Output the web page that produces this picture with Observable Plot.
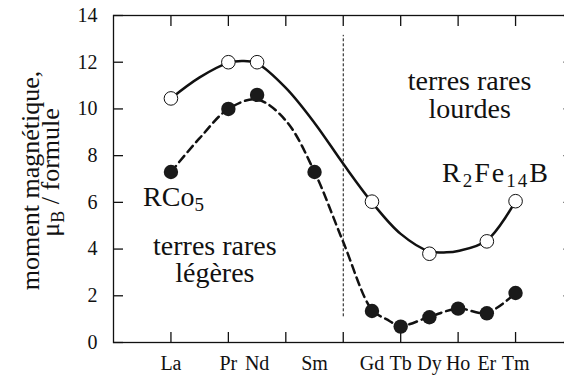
<!DOCTYPE html>
<html><head><meta charset="utf-8">
<script src="https://cdn.jsdelivr.net/npm/d3@7"></script>
<script src="https://cdn.jsdelivr.net/npm/@observablehq/plot@0.6"></script>
<style>
html,body{margin:0;padding:0;overflow:hidden;background:#fff;width:564px;height:376px}
#chart{width:580px}
#chart svg, #chart svg text, #chart svg tspan{font-family:"Liberation Serif","Times New Roman",Times,serif !important}
</style></head><body><div id="chart"></div>
<script>
// Lanthanides placed by atomic number
const elements = ["La","Pr","Nd","Sm","Gd","Tb","Dy","Ho","Er","Tm"];
const atomicNumbers = [57,59,60,62,64,65,66,67,68,69];
// RCo5 (filled dots)
const rco5Moment = [7.3,10.0,10.6,7.3,1.35,0.68,1.08,1.45,1.25,2.12];
// R2Fe14B (open dots)
const r2fe14bZ = [57,59,60,64,66,68,69];
const r2fe14bMoment = [10.45,12.0,12.0,6.03,3.8,4.33,6.05];
// guide curves
const solidTrendZ = [57,58,59,59.5,60,61,62,63,64,65,66,66.6,67,68,69];
const solidTrendM = [10.45,11.35,11.97,12.05,11.95,10.9,9.4,7.65,6.0,4.65,3.9,3.86,3.92,4.37,6.05];
const dashedTrendZ = [57,58,59,60,61,62,63,64,64.5,65,66,67,68,69];
const dashedTrendM = [7.3,8.75,10.0,10.4,9.5,7.3,4.3,1.4,1.0,0.72,1.1,1.45,1.27,2.12];
// axes
const xTicks = [57,59,61,63,65,67,69];
const yTicks = [0,2,4,6,8,10,12,14];
const dividerZ = 63;
const dividerRange = [1.1, 13.15];

const rco5 = atomicNumbers.map((z, i) => ({z, m: rco5Moment[i]}));
const r2fe = r2fe14bZ.map((z, i) => ({z, m: r2fe14bMoment[i]}));
const solidTrend = solidTrendZ.map((z, i) => ({z, m: solidTrendM[i]}));
const dashedTrend = dashedTrendZ.map((z, i) => ({z, m: dashedTrendM[i]}));

const annotations = [
  {text: "RCo_{5}", z: 57.09, m: 5.86, ls: 0},
  {text: "terres rares\nlégères", z: 58.53, m: 2.57, ls: 0},
  {text: "terres rares\nlourdes", z: 67.4, m: 9.63, ls: 0},
  {text: "R_{2}Fe_{14}B", z: 68.32, m: 6.86, ls: 2}
];
const yTitle = [
  {text: "moment magnétique,", m: 6.935, dx: -75},
  {text: "μ_{B} / formule", m: 7.28, dx: -55}
];

const serif = "Liberation Serif, Times New Roman, Times, serif";
const fmtElem = d => elements[atomicNumbers.indexOf(d)];

const plot = Plot.plot({
  width: 580, height: 376,
  marginLeft: 113, marginRight: 7.5, marginTop: 15, marginBottom: 34,
  style: {fontFamily: serif, fontSize: "20px", color: "#111", background: "#fff", maxWidth: "none"},
  x: {domain: [55, 71]},
  y: {domain: [0, 14]},
  marks: [
    Plot.frame({stroke: "#111", strokeWidth: 1.3}),
    Plot.axisX({ticks: xTicks, anchor: "bottom", tickSize: -10, tickFormat: () => "", label: null, strokeWidth: 1.3}),
    Plot.axisX({ticks: xTicks, anchor: "top", tickSize: -10, tickFormat: () => "", label: null, strokeWidth: 1.3}),
    Plot.axisX({ticks: atomicNumbers, anchor: "bottom", tickSize: 0, tickPadding: 13, tickFormat: fmtElem, label: null, fontSize: 20, fontFamily: serif}),
    Plot.axisY({ticks: yTicks, anchor: "left", tickSize: -10, tickPadding: 26, label: null, fontSize: 20, fontFamily: serif, strokeWidth: 1.3}),
    Plot.axisY({ticks: yTicks, anchor: "right", tickSize: -10, tickFormat: () => "", label: null, strokeWidth: 1.3}),
    Plot.ruleX([dividerZ], {y1: dividerRange[0], y2: dividerRange[1], stroke: "#111", strokeWidth: 1, strokeDasharray: "3,2"}),
    Plot.line(solidTrend, {x: "z", y: "m", curve: "catmull-rom", stroke: "#111", strokeWidth: 2.5}),
    Plot.line(dashedTrend, {x: "z", y: "m", curve: "catmull-rom", stroke: "#111", strokeWidth: 2.5, strokeDasharray: "8,5"}),
    Plot.dot(rco5, {x: "z", y: "m", r: 7.2, fill: "#1a1a1a", stroke: "none"}),
    Plot.dot(r2fe, {x: "z", y: "m", r: 6.8, fill: "#fff", stroke: "#111", strokeWidth: 1}),
    Plot.text(annotations, {x: "z", y: "m", text: "text", lineAnchor: "bottom", lineHeight: 0.97, fontSize: 28, fontFamily: serif, fill: "#111", className: "rich"}),
    Plot.text(yTitle, {y: "m", text: "text", frameAnchor: "left", textAnchor: "middle", rotate: -90, lineAnchor: "bottom", fontSize: 26, fontFamily: serif, fill: "#111", className: "rich-title"})
  ]
});
document.getElementById("chart").appendChild(plot);

// per-line horizontal offset for the rotated title
const titleTexts = plot.querySelectorAll(".rich-title text");
titleTexts.forEach((t, i) => {
  const tr = t.getAttribute("transform") || "";
  t.setAttribute("transform", `translate(${yTitle[i].dx},0) ` + tr);
});

// subscripts written as _{x}
function richify(el, subSize, shift) {
  const s = el.textContent;
  if (!s.includes("_{")) return;
  const parts = s.split(/_\{([^}]*)\}/);
  while (el.firstChild) el.removeChild(el.firstChild);
  let cur = 0;
  parts.forEach((p, i) => {
    if (p === "") return;
    const isSub = i % 2 === 1;
    const target = isSub ? shift : 0;
    const ts = document.createElementNS("http://www.w3.org/2000/svg", "tspan");
    ts.textContent = p;
    if (target !== cur) ts.setAttribute("dy", target - cur);
    if (isSub) ts.setAttribute("font-size", subSize);
    cur = target;
    el.appendChild(ts);
  });
}
plot.querySelectorAll(".rich text").forEach((t, i) => {
  if (annotations[i] && annotations[i].ls) t.setAttribute("letter-spacing", annotations[i].ls);
  richify(t, 19, 5);
});
titleTexts.forEach(t => richify(t, 18, 5));
</script></body></html>
